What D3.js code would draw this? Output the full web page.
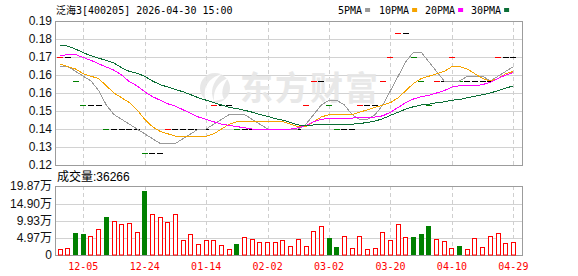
<!DOCTYPE html>
<html>
<head>
<meta charset="utf-8">
<script src="https://cdn.jsdelivr.net/npm/d3@7/dist/d3.min.js"></script>
<style>
body{margin:0;background:#fff;}
svg{display:block;}
</style>
</head>
<body>
<div id="kchart"></div>
<script>
var title = "泛海3[400205] 2026-04-30 15:00"
var dates = ["11-28","12-01","12-03","12-05","12-08","12-10","12-12","12-15","12-17","12-19",
	"12-22","12-24","12-26","12-29","12-31","01-05","01-07","01-09","01-12","01-14",
	"01-16","01-19","01-21","01-23","01-26","01-28","01-30","02-02","02-04","02-06",
	"02-09","02-11","02-13","02-25","02-27","03-02","03-04","03-06","03-09","03-11",
	"03-13","03-16","03-18","03-20","03-23","03-25","03-27","03-30","04-01","04-03",
	"04-08","04-10","04-13","04-15","04-17","04-20","04-22","04-24","04-27","04-29"]
var closes = [0.17,0.17,0.16,0.15,0.15,0.15,0.14,0.14,0.14,0.14,
	0.14,0.13,0.13,0.13,0.14,0.14,0.14,0.14,0.14,0.14,
	0.15,0.15,0.15,0.14,0.14,0.14,0.14,0.14,0.14,0.14,
	0.14,0.14,0.15,0.16,0.16,0.15,0.14,0.14,0.14,0.15,
	0.15,0.15,0.16,0.17,0.18,0.18,0.17,0.16,0.15,0.16,
	0.16,0.17,0.16,0.16,0.16,0.16,0.16,0.17,0.17,0.17]
var prevClose = 0.16
var volumes = [17300,20000,64300,60500,54700,74000,109400,97900,90200,92200,
	66200,185200,118100,109400,95000,118100,43200,60500,31700,43200,
	43200,27900,16300,31700,50800,45000,37400,37400,37400,43200,
	24900,45000,24900,68100,82500,48900,23000,53700,19200,53700,
	16300,19200,66200,44000,89300,50800,51800,60500,83500,45000,
	40300,20200,25900,16300,48000,22100,53700,63400,34600,36266]
var ma5 = [0.166,0.166,0.164,0.162,0.16,0.156,0.15,0.146,0.144,0.142,
	0.14,0.138,0.136,0.134,0.134,0.134,0.136,0.138,0.14,0.14,
	0.142,0.144,0.146,0.146,0.146,0.144,0.142,0.14,0.14,0.14,
	0.14,0.14,0.142,0.146,0.15,0.152,0.152,0.15,0.146,0.144,
	0.144,0.146,0.15,0.156,0.162,0.168,0.172,0.172,0.168,0.164,
	0.16,0.16,0.16,0.162,0.162,0.162,0.16,0.162,0.164,0.166]
var ma10 = [0.167,0.166,0.165,0.163,0.162,0.161,0.158,0.155,0.153,0.151,
	0.148,0.144,0.141,0.139,0.138,0.137,0.137,0.137,0.137,0.137,
	0.138,0.140,0.142,0.143,0.143,0.143,0.143,0.143,0.143,0.143,
	0.142,0.141,0.141,0.143,0.145,0.146,0.146,0.146,0.146,0.147,
	0.148,0.149,0.150,0.151,0.153,0.156,0.159,0.161,0.162,0.163,
	0.164,0.166,0.166,0.165,0.163,0.161,0.160,0.161,0.163,0.164]
var ma20 = [0.1705,0.171,0.171,0.1698,0.1686,0.1672,0.1658,0.1645,0.1625,0.1597,
	0.158,0.1555,0.1535,0.152,0.1505,0.1495,0.148,0.1465,0.145,0.144,
	0.143,0.142,0.1415,0.141,0.1405,0.140,0.140,0.140,0.140,0.140,
	0.140,0.1405,0.1415,0.143,0.144,0.1445,0.1445,0.1445,0.1445,0.145,
	0.145,0.145,0.1455,0.147,0.149,0.151,0.1525,0.1535,0.154,0.155,
	0.156,0.1575,0.158,0.158,0.158,0.1585,0.1595,0.161,0.1625,0.1635]
var ma30 = [0.175,0.1745,0.1733,0.1718,0.1705,0.1695,0.1686,0.1675,0.1655,0.164,
	0.1632,0.162,0.160,0.1585,0.1575,0.1565,0.1555,0.1543,0.153,0.152,
	0.151,0.150,0.149,0.1485,0.1478,0.147,0.146,0.1453,0.1443,0.1437,
	0.1427,0.1417,0.1413,0.1417,0.142,0.142,0.142,0.142,0.142,0.1423,
	0.1427,0.1433,0.1443,0.1457,0.147,0.1483,0.1493,0.150,0.1503,0.151,
	0.1513,0.152,0.1523,0.153,0.1537,0.1543,0.155,0.156,0.157,0.158]
var maNames = ["5PMA", "10PMA", "20PMA", "30PMA"]
var dateTicks = ["12-05","12-24","01-14","02-02","03-02","03-20","04-10","04-29"]
var priceLabels = ["0.19","0.18","0.17","0.16","0.16","0.15","0.14","0.13","0.12"]
var volLabels = ["19.87万","14.90万","9.93万","4.97万","0"]
var volMax = 198700
var volTitle = "成交量"

drawchart()
function drawchart() {
	var width = 578,
		height = 276
	var left = 55, right = 522
	var pTop = 21, pBot = 165, vTop = 186, vBot = 255
	var colors = ["#9a9a9a", "#f5a300", "#ff00ff", "#0b6e36"]
	var monoFont = "'DejaVu Sans Mono', 'Noto Sans CJK SC', monospace"
	var labelFont = "'Liberation Sans', Arial, 'Noto Sans CJK SC', sans-serif"

	var svg = d3.select("#kchart")
		.append("svg")
		.attr("width", width)
		.attr("height", height)
		.style("background", "#fff")

	var x = d3.scaleBand().domain(dates).range([56.4, 517.2])
	var cx = function(d) { return x(d) + x.bandwidth() / 2 }
	var y = d3.scaleLinear().domain([0.125, 0.185]).range([pBot, pTop])
	var yv = d3.scaleLinear().domain([0, volMax]).range([vBot, vTop])
	var yl = d3.scalePoint().domain(d3.range(priceLabels.length)).range([pTop, pBot])
	var yvl = d3.scalePoint().domain(d3.range(volLabels.length)).range([vTop, vBot])

	// horizontal grid
	svg.append("g").selectAll("line")
		.data(d3.range(1, priceLabels.length - 1))
		.enter().append("line")
		.attr("x1", left).attr("x2", right)
		.attr("y1", d => Math.round(yl(d)) + 0.5)
		.attr("y2", d => Math.round(yl(d)) + 0.5)
		.attr("stroke", "#d2d2d2")
	svg.append("g").selectAll("line")
		.data(d3.range(1, volLabels.length - 1))
		.enter().append("line")
		.attr("x1", left).attr("x2", right)
		.attr("y1", d => Math.ceil(yvl(d)) + 0.5)
		.attr("y2", d => Math.ceil(yvl(d)) + 0.5)
		.attr("stroke", "#d2d2d2")

	// vertical dashed grid
	var vg = svg.append("g")
	;[[pTop, pBot], [vTop, vBot]].forEach(function(r) {
		vg.selectAll(null)
			.data(dateTicks)
			.enter().append("line")
			.attr("x1", d => Math.round(cx(d)) + 0.5)
			.attr("x2", d => Math.round(cx(d)) + 0.5)
			.attr("y1", r[0]).attr("y2", r[1])
			.attr("stroke", "#cfcfcf")
			.attr("stroke-dasharray", "4,3")
	})

	// watermark
	var wm = svg.append("g").attr("opacity", 0.9)
	wm.append("ellipse")
		.attr("cx", 215).attr("cy", 88).attr("rx", 15).attr("ry", 15)
		.attr("fill", "#e6e6e6")
	wm.append("path")
		.attr("d", "M206,101 C202,88 208,78 222,74 C212,82 210,92 214,101 Z M214,101 C213,90 218,82 228,78 C222,86 221,94 224,99 Z")
		.attr("fill", "#fff")
	wm.append("text")
		.attr("x", 240).attr("y", 100)
		.text("东方财富")
		.style("font-family", "'Noto Sans CJK SC', sans-serif")
		.style("font-weight", "bold")
		.style("font-size", "33px")
		.style("letter-spacing", "2px")
		.attr("fill", "#e6e6e6")

	// borders
	svg.append("rect")
		.attr("x", left + 0.5).attr("y", pTop + 0.5)
		.attr("width", right - left).attr("height", pBot - pTop)
		.attr("fill", "none").attr("stroke", "#9c9c9c")
	svg.append("rect")
		.attr("x", left + 0.5).attr("y", vTop + 0.5)
		.attr("width", right - left).attr("height", vBot - vTop)
		.attr("fill", "none").attr("stroke", "#9c9c9c")

	function dir(i) {
		var p = i == 0 ? prevClose : closes[i - 1]
		if (closes[i] > p + 1e-9) return "up"
		if (closes[i] < p - 1e-9) return "down"
		return "flat"
	}
	var candleColor = { up: "#ff0000", down: "#008000", flat: "#000000" }

	// candles (open == close, drawn as a dash)
	svg.append("g").selectAll("rect")
		.data(closes)
		.enter().append("rect")
		.attr("x", (d, i) => Math.round(cx(dates[i]) - 3))
		.attr("y", d => Math.round(y(d)))
		.attr("width", 6)
		.attr("height", 1)
		.attr("fill", (d, i) => candleColor[dir(i)])

	// moving averages
	var line = d3.line()
		.x((d, i) => cx(dates[i]))
		.y(d => y(d))
	var g = svg.append("g")
	;[ma5, ma10, ma20, ma30].forEach(function(s, k) {
		g.append("path")
			.attr("d", line(s))
			.attr("fill", "none")
			.attr("stroke", colors[k])
			.attr("stroke-width", 1)
			.attr("shape-rendering", "crispEdges")
	})

	// volume bars
	var vb = svg.append("g")
	vb.selectAll("rect")
		.data(volumes)
		.enter().append("rect")
		.attr("x", (d, i) => dir(i) == "down" ? Math.round(cx(dates[i]) - 2.5) : Math.round(cx(dates[i]) - 2.5) + 0.5)
		.attr("y", (d, i) => dir(i) == "down" ? Math.round(yv(d)) : Math.round(yv(d)) + 0.5)
		.attr("width", (d, i) => dir(i) == "down" ? 5 : 4)
		.attr("height", (d, i) => dir(i) == "down" ? vBot - Math.round(yv(d)) : vBot - Math.round(yv(d)) - 0.5)
		.attr("fill", (d, i) => dir(i) == "down" ? "#008000" : "#fff")
		.attr("stroke", (d, i) => dir(i) == "down" ? "none" : "#ff0000")
		.attr("stroke-width", 1)

	// axes
	var ay = svg.append("g")
		.attr("transform", `translate(${left},0)`)
		.call(d3.axisLeft(yl).tickSize(0).tickPadding(3).tickFormat(i => priceLabels[i]))
	var avy = svg.append("g")
		.attr("transform", `translate(${left},0)`)
		.call(d3.axisLeft(yvl).tickSize(0).tickPadding(3).tickFormat(i => volLabels[i]))
	;[ay, avy].forEach(function(a) {
		a.select(".domain").remove()
		a.selectAll("text")
			.style("font-family", labelFont)
			.style("font-size", "12px")
			.attr("fill", "#111")
	})
	var ax = svg.append("g")
		.attr("transform", `translate(0,${vBot})`)
		.call(d3.axisBottom(x).tickValues(dateTicks).tickSize(0).tickPadding(8))
	ax.select(".domain").remove()
	ax.selectAll("text")
		.style("font-family", monoFont)
		.style("font-size", "10px")
		.attr("fill", "#ff0000")

	// title + legend
	svg.append("text")
		.attr("x", 56).attr("y", 13.5)
		.text(title)
		.style("font-family", monoFont)
		.style("font-size", "10px")
		.attr("fill", "#000")
	var legX = [338, 379, 425, 471]
	var leg = svg.append("g")
	maNames.forEach(function(n, k) {
		leg.append("text")
			.attr("x", legX[k]).attr("y", 13.5)
			.text(n)
			.style("font-family", monoFont)
			.style("font-size", "10px")
			.attr("fill", "#000")
		leg.append("rect")
			.attr("x", legX[k] + n.length * 6.02 + 3).attr("y", 8)
			.attr("width", 5).attr("height", 4)
			.attr("fill", colors[k])
	})

	svg.append("text")
		.attr("x", 57).attr("y", 181)
		.text(volTitle + ":" + volumes[volumes.length - 1])
		.style("font-family", labelFont)
		.style("font-size", "12px")
		.attr("fill", "#000")
}
</script>
</body>
</html>
